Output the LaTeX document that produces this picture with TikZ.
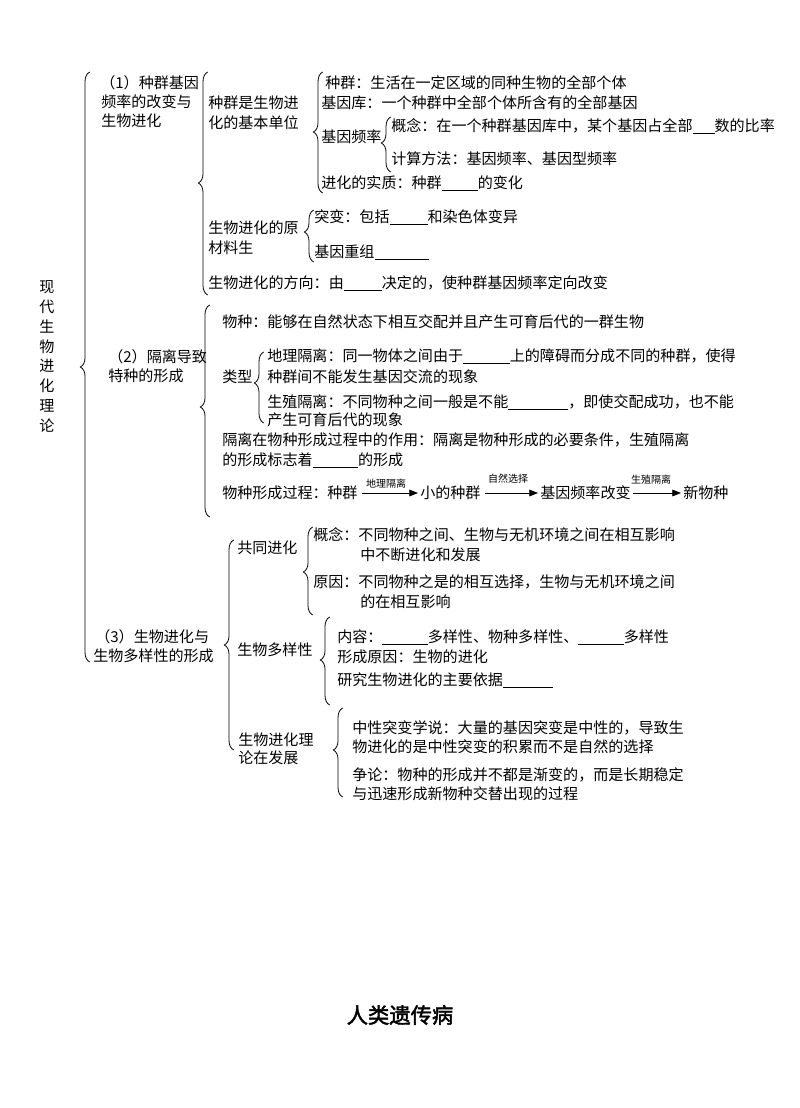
\documentclass[tikz,border=0pt]{standalone}
\usepackage{fontspec}
\setmainfont{Noto Sans CJK SC}[AutoFakeBold=2]
\usetikzlibrary{decorations.pathreplacing,arrows.meta}
\newcommand{\blank}[1]{\rule[-1.8pt]{#1}{0.5pt}}
\newcommand{\mybrace}[4]{%
  \pgfmathsetmacro{\braceasp}{(#3-#4)/(#3-#2)}%
  \draw[brc, decoration={brace, amplitude=7pt, aspect=\braceasp}] (#1+4.7,#3) -- (#1+4.7,#2);}
\tikzset{
  t/.style={anchor=west, inner sep=0pt, text height=9.9pt, text depth=1.3pt, font=\fontsize{11.3}{14}\selectfont},
  tc/.style={t, anchor=center},
  lbl/.style={inner sep=0pt, font=\fontsize{7.5}{9}\selectfont},
  brc/.style={decorate, line width=0.6pt},
  arr/.style={line width=0.6pt, -{Triangle[length=6.5pt,width=5pt]}},
  ttl/.style={inner sep=0pt, font=\fontsize{16}{19}\selectfont\bfseries}
}
\begin{document}
\begin{tikzpicture}[x=0.75pt, y=-0.75pt]
\useasboundingbox (0,0) rectangle (800,1108);

% root column
\foreach \c [count=\i from 0] in {现,代,生,物,进,化,理,论}
  \node[tc] (root\i) at (47, {287+19.8*\i}) {\c};

% section 1
\node[t] (s1a) at (100,83) {（1）种群基因};
\node[t] (s1b) at (101,102) {频率的改变与};
\node[t] (s1c) at (101,121) {生物进化};

\node[t] (u1a) at (208,103) {种群是生物进};
\node[t] (u1b) at (208,123) {化的基本单位};
\node[t] (pop) at (325,83) {种群：生活在一定区域的同种生物的全部个体};
\node[t] (pool) at (321,103) {基因库：一个种群中全部个体所含有的全部基因};
\node[t] (gf) at (321,137) {基因频率};
\node[t] (gfc) at (391,126) {概念：在一个种群基因库中，某个基因占全部\blank{16.5pt}数的比率};
\node[t] (gfm) at (391,159) {计算方法：基因频率、基因型频率};
\node[t] (ess) at (321,183) {进化的实质：种群\blank{27pt}的变化};

\node[t] (raw1) at (208,228) {生物进化的原};
\node[t] (raw2) at (208,248) {材料生};
\node[t] (mut) at (314,217) {突变：包括\blank{28.5pt}和染色体变异};
\node[t] (rec) at (314,252) {基因重组\blank{41pt}};
\node[t] (dir) at (208,283) {生物进化的方向：由\blank{28.5pt}决定的，使种群基因频率定向改变};

% section 2
\node[t] (s2a) at (108,357) {（2）隔离导致};
\node[t] (s2b) at (108,376) {特种的形成};
\node[t] (sp) at (222,322) {物种：能够在自然状态下相互交配并且产生可育后代的一群生物};
\node[t] (typ) at (222,377) {类型};
\node[t] (geo1) at (267,356) {地理隔离：同一物体之间由于\blank{35pt}上的障碍而分成不同的种群，使得};
\node[t] (geo2) at (267,377) {种群间不能发生基因交流的现象};
\node[t] (rep1) at (267,402) {生殖隔离：不同物种之间一般是不能\blank{45pt}，即使交配成功，也不能};
\node[t] (rep2) at (267,420) {产生可育后代的现象};
\node[t] (role1) at (222,440) {隔离在物种形成过程中的作用：隔离是物种形成的必要条件，生殖隔离};
\node[t] (role2) at (222,460) {的形成标志着\blank{34pt}的形成};

\node[t] (f0) at (222,493) {物种形成过程：};
\node[t] (f1) at (327,493) {种群};
\node[t] (f2) at (420,493) {小的种群};
\node[t] (f3) at (540,493) {基因频率改变};
\node[t] (f4) at (683,493) {新物种};
\draw[arr] ([xshift=3pt]f1.east) -- ([xshift=-1.5pt]f2.west);
\draw[arr] ([xshift=3pt]f2.east) -- ([xshift=-1.5pt]f3.west);
\draw[arr] ([xshift=1.5pt]f3.east) -- ([xshift=-1.5pt]f4.west);
\node[lbl] (l1) at (386,484) {地理隔离};
\node[lbl] (l2) at (508,479) {自然选择};
\node[lbl] (l3) at (651,480) {生殖隔离};

% section 3
\node[t] (s3a) at (95,637) {（3）生物进化与};
\node[t] (s3b) at (93,656) {生物多样性的形成};
\node[t] (co) at (237,548) {共同进化};
\node[t] (co1) at (313,535) {概念：不同物种之间、生物与无机环境之间在相互影响};
\node[t] (co2) at (360,555) {中不断进化和发展};
\node[t] (co3) at (313,582) {原因：不同物种之是的相互选择，生物与无机环境之间};
\node[t] (co4) at (360,602) {的在相互影响};
\node[t] (div) at (237,650) {生物多样性};
\node[t] (div1) at (337,637) {内容：\blank{34pt}多样性、物种多样性、\blank{34pt}多样性};
\node[t] (div2) at (337,657) {形成原因：生物的进化};
\node[t] (div3) at (337,680) {研究生物进化的主要依据\blank{37.5pt}};
\node[t] (th1) at (238,740) {生物进化理};
\node[t] (th2) at (238,758) {论在发展};
\node[t] (ne1) at (352,728) {中性突变学说：大量的基因突变是中性的，导致生};
\node[t] (ne2) at (352,747) {物进化的是中性突变的积累而不是自然的选择};
\node[t] (db1) at (352,775) {争论：物种的形成并不都是渐变的，而是长期稳定};
\node[t] (db2) at (352,794) {与迅速形成新物种交替出现的过程};

% braces
\mybrace{85}{72}{662}{367}
\mybrace{203}{72}{295}{183}
\mybrace{318}{72}{193}{132}
\mybrace{386}{117}{172}{143}
\mybrace{309}{210}{262}{232}
\mybrace{205}{305}{517}{407}
\mybrace{259}{352}{423}{383}
\mybrace{229}{540}{750}{645}
\mybrace{308}{527}{615}{572}
\mybrace{325}{617}{705}{660}
\mybrace{338}{708}{797}{750}

% title
\node[ttl] (title) at (400,1015) {人类遗传病};
\end{tikzpicture}
\end{document}
